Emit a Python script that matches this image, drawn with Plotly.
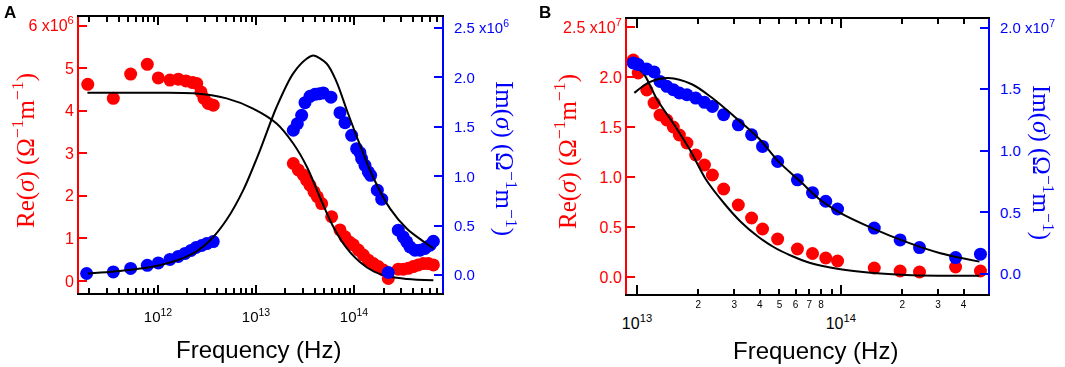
import plotly.graph_objects as go

# ---------------- Panel A data (Re in 1e6, Im in 1e6 S/m) ----------------
fA_re = [1.92e11, 3.50e11, 5.26e11, 7.78e11, 1.007e12, 1.324e12, 1.611e12, 1.932e12,
         2.259e12, 2.483e12, 2.748e12, 2.944e12, 3.258e12, 3.664e12,
         2.404e13, 2.704e13, 3.041e13, 3.289e13, 3.556e13, 3.908e13, 4.227e13, 4.677e13,
         5.916e13, 7.194e13, 8.091e13, 8.954e13, 9.840e13, 1.107e14, 1.245e14, 1.400e14,
         1.574e14, 1.770e14, 1.991e14, 2.239e14, 2.831e14, 3.184e14, 3.581e14, 4.027e14,
         4.529e14, 5.093e14, 5.728e14, 6.457e14]
reA = [4.62, 4.29, 4.86, 5.09, 4.77, 4.72, 4.74, 4.70, 4.66, 4.64, 4.44, 4.29, 4.17, 4.13,
       2.76, 2.61, 2.49, 2.37, 2.25, 2.10, 1.98, 1.82, 1.51, 1.20, 1.04, 0.92, 0.85, 0.73,
       0.61, 0.49, 0.41, 0.34, 0.26, 0.06, 0.28, 0.28, 0.30, 0.34, 0.38, 0.41, 0.41, 0.38]

fA_im = [1.87e11, 3.50e11, 5.26e11, 7.78e11, 1.007e12, 1.324e12, 1.611e12, 1.888e12,
         2.173e12, 2.443e12, 2.793e12, 3.141e12, 3.664e12,
         2.404e13, 2.642e13, 2.924e13, 3.162e13, 3.556e13, 3.999e13, 4.426e13, 4.864e13,
         5.821e13, 7.194e13, 8.091e13, 9.462e13, 1.064e14, 1.151e14, 1.197e14, 1.294e14,
         1.400e14, 1.479e14, 1.730e14, 1.919e14, 2.239e14, 2.831e14, 3.184e14, 3.451e14,
         3.724e14, 4.188e14, 4.710e14, 5.297e14, 5.970e14, 6.457e14]
imA = [0.017, 0.033, 0.068, 0.10, 0.124, 0.159, 0.19, 0.22, 0.25, 0.28, 0.30, 0.32, 0.34,
       1.465, 1.532, 1.616, 1.744, 1.808, 1.828, 1.835, 1.842, 1.80, 1.643, 1.542, 1.414,
       1.279, 1.239, 1.178, 1.111, 1.044, 1.01, 0.859, 0.768, 0.027, 0.455, 0.387, 0.337,
       0.286, 0.253, 0.253, 0.27, 0.303, 0.343]

fA_refit = [1.905e11, 6.31e11, 2.291e12, 5.012e12, 9.333e12, 1.622e13, 2.399e13, 3.311e13,
            4.467e13, 6.166e13, 8.511e13, 1.148e14, 1.585e14, 2.344e14, 3.467e14, 6.457e14]
reA_fit = [4.42, 4.42, 4.41, 4.29, 4.05, 3.70, 3.23, 2.68, 1.98, 1.27, 0.76, 0.45, 0.23,
           0.10, 0.05, 0.02]

fA_imfit = [1.928e11, 4.786e11, 1.047e12, 2.291e12, 3.388e12, 5.012e12, 7.413e12, 1.096e13,
            1.622e13, 2.399e13, 3.311e13, 3.846e13, 5.248e13, 6.607e13, 8.511e13, 1.148e14,
            1.585e14, 2.344e14, 3.467e14, 5.129e14, 6.457e14]
imA_fit = [0.017, 0.05, 0.10, 0.22, 0.35, 0.56, 0.86, 1.26, 1.70, 2.04, 2.19, 2.22, 2.14,
           1.96, 1.66, 1.32, 0.98, 0.67, 0.47, 0.34, 0.27]

# ---------------- Panel B data (values in 1e7 S/m) ----------------
fB = [9.59e12, 1.014e13, 1.117e13, 1.213e13, 1.297e13, 1.400e13, 1.507e13, 1.614e13,
      1.758e13, 1.941e13, 2.143e13, 2.344e13, 2.661e13, 3.141e13, 3.648e13, 4.130e13,
      4.898e13, 6.124e13, 7.261e13, 8.433e13, 9.638e13, 1.459e14, 1.954e14, 2.432e14,
      3.656e14, 4.842e14]
reB = [2.17, 2.04, 1.87, 1.74, 1.62, 1.57, 1.50, 1.42, 1.34, 1.22, 1.12, 1.02, 0.88, 0.72,
       0.59, 0.48, 0.38, 0.28, 0.235, 0.19, 0.16, 0.09, 0.06, 0.05, 0.10, 0.06]
imB = [1.713, 1.70, 1.664, 1.64, 1.563, 1.523, 1.496, 1.469, 1.455, 1.428, 1.393, 1.36,
       1.293, 1.211, 1.13, 1.035, 0.913, 0.764, 0.66, 0.59, 0.527, 0.372, 0.276, 0.214,
       0.133, 0.16]

fB_refit = [9.772e12, 1.072e13, 1.259e13, 1.514e13, 1.820e13, 2.188e13, 2.692e13, 3.236e13,
            3.890e13, 4.677e13, 5.754e13, 7.079e13, 9.772e13, 1.445e14, 2.089e14, 3.020e14,
            4.786e14]
reB_fit = [2.10, 2.04, 1.77, 1.53, 1.27, 0.97, 0.73, 0.55, 0.41, 0.30, 0.21, 0.14, 0.08,
           0.04, 0.02, 0.013, 0.012]

fB_imfit = [9.705e12, 1.159e13, 1.426e13, 1.858e13, 2.333e13, 3.041e13, 3.963e13, 4.966e13,
            6.237e13, 7.943e13, 9.817e13, 1.432e14, 2.089e14, 3.048e14, 4.786e14]
imB_fit = [1.47, 1.56, 1.59, 1.54, 1.43, 1.27, 1.10, 0.91, 0.76, 0.60, 0.50, 0.37, 0.26,
           0.17, 0.10]

# tick labels
yA_left_ticks = [0, 1, 2, 3, 4, 5, 6]
yA_left_text = ["0", "1", "2", "3", "4", "5", "6 x10<sup>6</sup>"]
yA_right_ticks = [0, 0.5, 1.0, 1.5, 2.0, 2.5]
yA_right_text = ["0.0", "0.5", "1.0", "1.5", "2.0", "2.5 x10<sup>6</sup>"]
yB_left_ticks = [0, 0.5, 1.0, 1.5, 2.0, 2.5]
yB_left_text = ["0.0", "0.5", "1.0", "1.5", "2.0", "2.5 x10<sup>7</sup>"]
yB_right_ticks = [0, 0.5, 1.0, 1.5, 2.0]
yB_right_text = ["0.0", "0.5", "1.0", "1.5", "2.0 x10<sup>7</sup>"]
xA_major = [1e12, 1e13, 1e14]
xA_major_text = ["10<sup>12</sup>", "10<sup>13</sup>", "10<sup>14</sup>"]
xA_minor = [m * 10.0 ** d for d in (11, 12, 13, 14) for m in range(2, 10)]
xB_major = [1e13, 1e14]
xB_major_text = ["10<sup>13</sup>", "10<sup>14</sup>"]
xB_minor = [2e13, 3e13, 4e13, 5e13, 6e13, 7e13, 8e13, 9e13, 2e14, 3e14, 4e14]
xB_minor_text = ["2", "3", "4", "5", "6", "7", "8", "", "2", "3", "4"]

RED = "#ff0000"
BLUE = "#0000ff"
SANS = "Liberation Sans, Arial, sans-serif"
SERIF = "Liberation Serif, Times New Roman, serif"

fig = go.Figure()

def pts(x, y, color, xa, ya, opacity=1.0):
    fig.add_trace(go.Scatter(x=x, y=y, mode="markers", xaxis=xa, yaxis=ya,
                             marker=dict(color=color, size=13, line=dict(width=0)),
                             opacity=opacity, showlegend=False, hoverinfo="skip"))

def fit(x, y, xa, ya):
    fig.add_trace(go.Scatter(x=x, y=y, mode="lines", xaxis=xa, yaxis=ya,
                             line=dict(color="black", width=2, shape="spline", smoothing=0.9),
                             showlegend=False, hoverinfo="skip"))

# invisible carriers so the overlay tick axes get drawn
pts(fA_re, reA, RED, "x4", "y", opacity=0)
pts(fB, reB, RED, "x3", "y3", opacity=0)

pts(fA_re, reA, RED, "x", "y")
fit(fA_refit, reA_fit, "x", "y")
pts(fA_im, imA, BLUE, "x", "y2")
fit(fA_imfit, imA_fit, "x", "y2")

pts(fB, reB, RED, "x2", "y3")
fit(fB_refit, reB_fit, "x2", "y3")
pts(fB, imB, BLUE, "x2", "y4")
fit(fB_imfit, imB_fit, "x2", "y4")

domA = [79 / 1065, 442 / 1065]
domB = [627 / 1065, 988 / 1065]
ydomA = [1 - 293 / 367, 1 - 17 / 367]
ydomB = [1 - 294 / 367, 1 - 19 / 367]
rangeA = [11.194, 14.898]
rangeB = [12.951, 14.722]

common_x = dict(type="log", showgrid=False, zeroline=False, showline=True,
                linecolor="black", linewidth=2, mirror="ticks", ticks="inside",
                tickcolor="black", tickwidth=1.5, tickmode="array", automargin=False)
common_y = dict(showgrid=False, zeroline=False, showline=True, linewidth=2,
                ticks="inside", ticklen=8, tickwidth=1.5, tickmode="array",
                automargin=False)

fig.update_layout(
    width=1065, height=367, autosize=False,
    margin=dict(l=0, r=0, t=0, b=0, autoexpand=False),
    paper_bgcolor="white", plot_bgcolor="white",
    xaxis=dict(**common_x, domain=domA, anchor="y", range=rangeA,
               tickvals=xA_major, ticktext=xA_major_text, ticklen=8,
               ticklabelstandoff=9,
               tickfont=dict(family=SANS, size=15, color="black")),
    xaxis4=dict(**common_x, overlaying="x", anchor="y", side="bottom", range=rangeA,
                tickvals=xA_minor, ticktext=[""] * len(xA_minor), ticklen=5),
    yaxis=dict(**common_y, domain=ydomA, anchor="x", range=[-0.28, 6.2],
               tickvals=yA_left_ticks, ticktext=yA_left_text,
               linecolor=RED, tickcolor=RED,
               tickfont=dict(family=SANS, size=16, color=RED)),
    yaxis2=dict(**common_y, overlaying="y", side="right", anchor="x",
                range=[-0.18, 2.61], tickvals=yA_right_ticks, ticktext=yA_right_text,
                linecolor=BLUE, tickcolor=BLUE, ticklabelstandoff=7,
                tickfont=dict(family=SANS, size=15, color=BLUE)),
    xaxis2=dict(**common_x, domain=domB, anchor="y3", range=rangeB,
                tickvals=xB_major, ticktext=xB_major_text, ticklen=9,
                ticklabelstandoff=14,
                tickfont=dict(family=SANS, size=16, color="black")),
    xaxis3=dict(**common_x, overlaying="x2", anchor="y3", side="bottom", range=rangeB,
                tickvals=xB_minor, ticktext=xB_minor_text, ticklen=5,
                tickfont=dict(family=SANS, size=10, color="black")),
    yaxis3=dict(**common_y, domain=ydomB, anchor="x2", range=[-0.17, 2.58],
                tickvals=yB_left_ticks, ticktext=yB_left_text,
                linecolor=RED, tickcolor=RED,
                tickfont=dict(family=SANS, size=16, color=RED)),
    yaxis4=dict(**common_y, overlaying="y3", side="right", anchor="x2",
                range=[-0.163, 2.07], tickvals=yB_right_ticks, ticktext=yB_right_text,
                linecolor=BLUE, tickcolor=BLUE, ticklabelstandoff=7,
                tickfont=dict(family=SANS, size=15, color=BLUE)),
)

re_title = "Re(<i>σ</i>) (Ω<sup>−1</sup>m<sup>−1</sup>)"
im_title = "Im(<i>σ</i>) (Ω<sup>−1</sup>m<sup>−1</sup>)"
ann = [
    dict(text=re_title, x=23 / 1065, y=1 - 151 / 367, textangle=-90,
         font=dict(family=SERIF, size=25, color=RED)),
    dict(text=im_title, x=505 / 1065, y=1 - 158 / 367, textangle=90,
         font=dict(family=SERIF, size=25, color=BLUE)),
    dict(text=re_title, x=565 / 1065, y=1 - 152 / 367, textangle=-90,
         font=dict(family=SERIF, size=25, color=RED)),
    dict(text=im_title, x=1043 / 1065, y=1 - 162 / 367, textangle=90,
         font=dict(family=SERIF, size=25, color=BLUE)),
    dict(text="Frequency (Hz)", x=258 / 1065, y=1 - 349 / 367,
         font=dict(family=SANS, size=24, color="black")),
    dict(text="Frequency (Hz)", x=815 / 1065, y=1 - 350 / 367,
         font=dict(family=SANS, size=24, color="black")),
    dict(text="<b>A</b>", x=10 / 1065, y=1 - 12 / 367,
         font=dict(family=SANS, size=17, color="black")),
    dict(text="<b>B</b>", x=545 / 1065, y=1 - 12 / 367,
         font=dict(family=SANS, size=17, color="black")),
]
for a in ann:
    fig.add_annotation(xref="paper", yref="paper", showarrow=False,
                       xanchor="center", yanchor="middle", **a)

fig.write_html("out.html", config={"displayModeBar": False},
               post_script="document.body.style.margin='0';")
